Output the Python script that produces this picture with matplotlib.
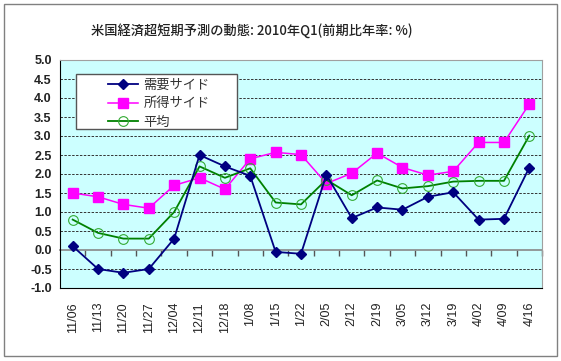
import matplotlib
matplotlib.use('Agg')
import matplotlib.pyplot as plt
from matplotlib.patches import Rectangle
import numpy as np

plt.rcParams['font.family'] = ['Liberation Sans', 'Noto Sans CJK JP', 'DejaVu Sans']

dates = ["11/06", "11/13", "11/20", "11/27", "12/04", "12/11", "12/18", "1/08", "1/15", "1/22",
         "2/05", "2/12", "2/19", "3/05", "3/12", "3/19", "4/02", "4/09", "4/16"]
demand = [0.1, -0.5, -0.6, -0.5, 0.3, 2.5, 2.2, 1.95, -0.05, -0.1,
          1.98, 0.84, 1.12, 1.06, 1.4, 1.52, 0.8, 0.82, 2.17]
income = [1.5, 1.4, 1.2, 1.1, 1.7, 1.9, 1.6, 2.4, 2.57, 2.51,
          1.75, 2.02, 2.55, 2.17, 1.97, 2.07, 2.83, 2.83, 3.84]
average = [0.8, 0.45, 0.3, 0.3, 1.0, 2.2, 1.9, 2.15, 1.25, 1.2,
           1.85, 1.44, 1.83, 1.62, 1.68, 1.8, 1.82, 1.82, 3.01]

fig = plt.figure(figsize=(5.61, 3.61), dpi=100)
# outer chart border
fig.patches.append(Rectangle((4 / 561, 5 / 361), 553 / 561, 352 / 361, transform=fig.transFigure,
                             fill=False, edgecolor='#808080', linewidth=1))

ax = fig.add_axes([60 / 561, 73 / 361, 482 / 561, 228 / 361])
ax.set_facecolor('#CCFFFF')
x = np.arange(len(dates))

ax.set_ylim(-1.0, 5.0)
ax.set_xlim(-0.5, len(dates) - 0.5)
yt = np.arange(-1.0, 5.01, 0.5)
ax.set_yticks(yt)
ax.set_yticklabels(["%.1f" % v for v in yt], fontsize=9, fontweight='bold', color='#222222')
for v in yt[1:]:
    if abs(v) > 1e-9:
        ax.axhline(v, color='#333333', linestyle=(0, (2.5, 1.5)), linewidth=0.7, zorder=1)
ax.tick_params(axis='y', length=0, pad=6)

ax.set_xticks(x)
ax.set_xticklabels(dates, rotation=90, fontsize=9, color='#222222')
ax.tick_params(axis='x', length=0, pad=10)

for s in ['top', 'right']:
    ax.spines[s].set_color('#A0A0A0')
ax.spines['left'].set_color('#000000')
ax.spines['bottom'].set_color('#000000')

# zero line with category separators
sec = ax.secondary_xaxis(1 / 6)
sec.set_xticks(np.arange(0.5, len(dates) - 0.4, 1.0))
sec.set_xticklabels([])
sec.tick_params(direction='out', length=4, color='#555555', width=1)
sec.spines['bottom'].set_color('#888888')
sec.spines['bottom'].set_linewidth(1.2)

ax.plot(x, demand, color='#000080', marker='D', markersize=5, linewidth=1.3, label='需要サイド', zorder=4)
ax.plot(x, income, color='#FF00FF', marker='s', markersize=7, linewidth=1.1, label='所得サイド', zorder=3)
ax.plot(x, average, color='#008000', marker='o', markersize=7, markerfacecolor='none',
        markeredgecolor='#33AA33', markeredgewidth=0.8, linewidth=1.3, label='平均', zorder=3)

# legend box drawn separately so the padding matches
fig.patches.append(Rectangle((76 / 561, 1 - 129 / 361), 161 / 561, 55 / 361, transform=fig.transFigure,
                             facecolor='white', edgecolor='#555555', linewidth=1, zorder=5))
leg = fig.legend(loc='upper left', bbox_to_anchor=(108 / 561, 1 - 79 / 361), frameon=False,
                 handlelength=2.3, handletextpad=0.4, borderpad=0, borderaxespad=0, labelspacing=0.4,
                 prop={'family': ['Noto Sans CJK JP'], 'size': 9.5})
leg.set_zorder(6)
for t in leg.get_texts():
    t.set_color('#333333')

fig.text(252 / 561, 1 - 31 / 361, "米国経済超短期予測の動態: 2010年Q1(前期比年率: %)", ha='center', va='center',
         fontsize=9.5, family=['Noto Sans CJK JP'], fontweight='medium', color='#222222')

fig.savefig('out.png', dpi=100)
